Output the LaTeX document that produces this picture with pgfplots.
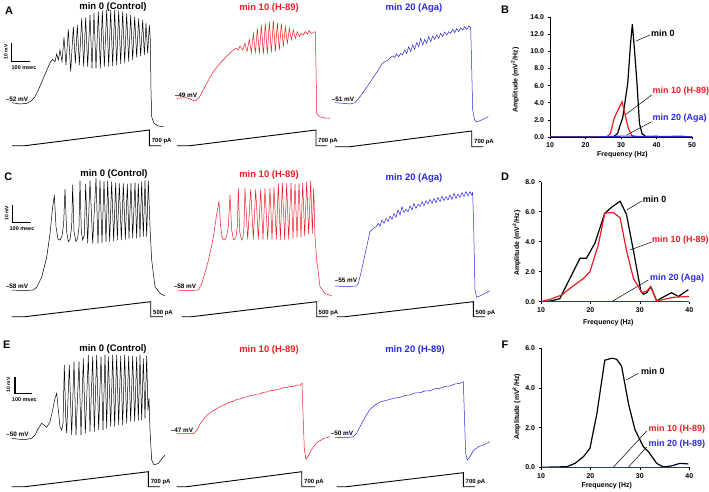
\documentclass[border=0pt]{standalone}
\usepackage{fontspec}
\setmainfont{Liberation Sans}
\usepackage{pgfplots}
\pgfplotsset{compat=1.18}
\definecolor{tred}{RGB}{237,28,36}
\definecolor{tblue}{RGB}{40,40,220}
\newcommand\fs[1]{\fontsize{#1}{#1}\selectfont\bfseries}

% traces are typed in 3x-zoom pixel units, shifted to picture pixels
\pgfplotsset{
  zm/.style 2 args={x filter/.expression={x/3+#1}, y filter/.expression={y/3+#2}},
  tr/.style={line width=0.5bp, no markers},
  ramp/.style={black, line width=0.9bp, no markers},
  spec/.style={
    scale only axis, axis lines=left, axis line style={-, line width=0.7bp},
    tick align=outside, major tick length=2.5bp, tick style={black, line width=0.6bp},
    ticklabel style={font=\fs{7}}, label style={font=\fs{7}},
    /pgf/number format/assume math mode=true,
    yticklabel style={/pgf/number format/.cd, fixed, fixed zerofill, precision=1},
    xlabel={Frequency (Hz)}, ylabel={Amplitude (mV\textsuperscript{2}/Hz)},
    every axis plot/.append style={no markers, line width=1.2bp},
  },
}
\newcommand\lbl[4][]{\node[#1] at (axis cs:#2,#3) {#4};}

\begin{document}
\begin{tikzpicture}
\begin{axis}[name=main, at={(0,0)}, anchor=south west, scale only axis,
  width=709bp, height=492bp, xmin=0, xmax=709, ymin=0, ymax=492,
  y dir=reverse, hide axis, clip=false]

% ---------------- row A ----------------
\addplot[tr, black, zm={40}{0}] coordinates {
(-85,308) (-60,312) (-40,310) (-25,302) (-15,290) (-5,270) (10,235) (25,200) (32,185)
(38,178) (45,185) (50,162) (55,180) (60,150) (66,185) (72,112) (78,195) (85,88) (92,215)
(100,80) (106,190) (112,75) (118,195) (125,55) (131,200) (137,52) (143,200) (150,45) (156,205)
(162,40) (168,205) (175,35) (181,205) (187,32) (193,200) (200,30) (206,200) (212,30) (218,198)
(224,30) (230,195) (236,32) (242,192) (248,35) (254,188) (260,40) (266,185) (272,45) (278,180)
(284,50) (290,172) (296,55) (302,168) (308,60) (313,165) (318,70) (323,160) (328,75) (331,120)
(333,270) (335,350) (342,370) (355,378) (370,380)};
\addplot[tr, tred, zm={220}{0}] coordinates {
(-130,295) (-100,293) (-75,303) (-62,292) (-40,250) (-20,215) (0,190) (10,180) (20,168) (30,160)
(40,150) (48,145) (55,150) (60,138) (68,150) (75,130) (81,155) (88,118) (94,158) (100,100)
(106,160) (112,85) (118,162) (124,75) (130,163) (136,70) (142,162) (148,65) (154,158) (160,62)
(166,155) (172,68) (178,150) (184,70) (190,140) (196,80) (202,130) (208,85) (214,120) (220,90)
(226,115) (232,95) (238,110) (244,100) (250,105) (256,95) (262,102) (268,92) (274,100) (280,98)
(286,95) (288,200) (290,340) (298,350) (315,354) (330,355)};
\addplot[tr, tblue, zm={220}{0}] coordinates {
(345,308) (370,310) (390,312) (405,308) (420,290) (440,262) (460,232) (475,210) (485,192) (495,185)
(505,180) (512,172) (518,168) (524,172) (530,162) (536,170) (542,160) (548,165) (554,150) (560,160)
(566,140) (572,155) (578,135) (584,148) (590,128) (596,140) (602,115) (608,135) (614,118) (620,130)
(626,110) (632,125) (638,108) (644,118) (650,105) (656,115) (662,100) (668,110) (674,96) (680,105)
(686,95) (692,100) (698,88) (704,98) (710,86) (716,95) (722,84) (728,90) (734,80) (740,88)
(746,78) (752,82) (755,200) (758,330) (764,360) (770,366) (785,360) (805,350)};
\addplot[ramp] coordinates {(12,145.7) (25,145.7) (149.3,130) (149.3,145.7) (161,145.7)};
\addplot[ramp] coordinates {(177,145.7) (190,145.7) (316,130) (316,145.7) (327,145.7)};
\addplot[ramp] coordinates {(335,146.7) (350,146.7) (471.7,131) (471.7,146.7) (483,146.7)};

% ---------------- row C ----------------
\addplot[tr, black, zm={0}{160}] coordinates {
(35,390) (70,392) (100,390) (110,382) (125,352) (140,292) (150,222) (157,150) (163,105) (168,200)
(174,238) (180,240) (186,228) (191,190) (195,88) (200,215) (205,245) (210,238) (215,200) (218,75)
(222,215) (228,245) (233,235) (237,200) (240,62) (244,215) (248,240) (253,225) (257,72) (263,250)
(270,62) (278,250) (288,55) (294,250) (300,62) (306,248) (312,65) (318,245) (323,62) (329,245)
(335,65) (341,243) (347,68) (352,240) (358,70) (364,240) (370,70) (376,238) (382,72) (387,235)
(393,70) (398,235) (405,68) (410,235) (415,70) (420,232) (425,65) (430,230) (435,62) (440,230)
(445,62) (450,200) (455,300) (465,380) (480,400) (495,408)};
\addplot[tr, tred, zm={165}{160}] coordinates {
(40,392) (70,392) (100,390) (110,372) (130,302) (145,232) (155,162) (162,125) (167,200) (172,235)
(178,240) (184,232) (190,200) (195,105) (200,210) (205,238) (208,240) (213,230) (217,200) (220,85)
(224,215) (230,240) (234,232) (237,200) (240,85) (248,238) (257,88) (265,238) (272,88) (280,238)
(287,88) (294,238) (300,85) (308,238) (315,85) (321,238) (327,82) (334,238) (340,70) (346,240)
(352,68) (359,240) (365,70) (371,238) (378,68) (384,235) (390,72) (396,232) (402,70) (408,232)
(413,68) (419,228) (425,65) (431,222) (437,62) (442,220) (446,85) (450,230) (455,300) (465,380)
(480,400) (500,408)};
\addplot[tr, tblue, zm={320}{160}] coordinates {
(45,378) (80,380) (110,378) (115,370) (125,330) (140,260) (150,215) (160,205) (168,200) (175,190)
(180,198) (186,180) (192,190) (198,175) (204,185) (210,168) (216,178) (222,160) (228,172) (234,150)
(240,165) (246,140) (252,158) (258,148) (264,155) (270,138) (276,150) (282,130) (288,145) (294,132)
(300,140) (306,125) (312,138) (318,122) (324,132) (330,118) (336,130) (342,115) (348,128) (354,112)
(360,125) (366,108) (372,122) (378,110) (384,120) (390,105) (396,118) (402,100) (408,115) (414,102)
(420,112) (426,98) (432,110) (438,95) (444,108) (450,95) (455,105) (458,98) (461,200) (465,390)
(470,412) (485,405) (510,392)};
\addplot[ramp] coordinates {(11.7,316.7) (25,316.7) (150.7,301.7) (150.7,316.7) (163,316.7)};
\addplot[ramp] coordinates {(181.7,316.7) (191.7,316.7) (316.7,301.7) (316.7,316.7) (328,316.7)};
\addplot[ramp] coordinates {(336.7,316.7) (345,316.7) (473.3,301.7) (473.3,316.7) (485,316.7)};

% ---------------- row E ----------------
\addplot[tr, black, zm={0}{330}] coordinates {
(35,325) (60,328) (80,328) (95,325) (105,315) (115,295) (125,280) (132,285) (140,292) (150,275)
(158,240) (165,205) (170,190) (175,240) (180,290) (185,300) (189,280) (193,105) (197,260) (200,310)
(208,105) (215,315) (222,95) (228,315) (237,95) (243,315) (250,85) (256,310) (265,75) (270,305)
(278,80) (283,305) (290,75) (296,300) (303,80) (309,300) (315,75) (320,295) (325,80) (332,290)
(338,75) (344,290) (350,75) (356,285) (362,78) (368,285) (374,75) (380,280) (386,78) (392,275)
(398,78) (404,275) (410,80) (415,272) (420,75) (425,270) (430,85) (435,265) (440,78) (444,240)
(447,205) (450,300) (455,390) (462,405) (475,400) (495,375)};
\addplot[tr, tred, zm={220}{330}] coordinates {
(-130,310) (-80,311) (-70,302) (-60,282) (-40,256) (-20,242) (0,230) (10,226) (20,221) (30,216)
(40,214) (50,208) (60,207) (70,202) (80,201) (90,197) (100,196) (110,192) (120,192) (130,187)
(140,186) (150,182) (160,182) (170,178) (180,177) (190,173) (200,173) (210,169) (220,170) (230,165)
(240,166) (246,160) (249,250) (253,360) (258,388) (265,378) (275,358) (290,338) (310,326) (330,320)};
\addplot[tr, tblue, zm={220}{330}] coordinates {
(345,322) (380,323) (400,320) (410,310) (420,290) (435,262) (450,238) (465,225) (480,216) (495,212)
(510,208) (525,204) (540,202) (555,196) (570,195) (585,189) (600,188) (615,183) (630,182) (645,176)
(660,175) (675,169) (690,168) (705,162) (720,160) (730,155) (733,250) (737,370) (742,390) (750,380)
(760,362) (775,350) (790,345) (810,335)};
\addplot[ramp] coordinates {(11.7,486.7) (25,486.7) (148.3,471.7) (148.3,486.7) (160,486.7)};
\addplot[ramp] coordinates {(176.7,486.7) (186.7,486.7) (301.7,471.7) (301.7,486.7) (315,486.7)};
\addplot[ramp] coordinates {(336.7,486.7) (346.7,486.7) (463.3,472.7) (463.3,486.7) (475,486.7)};

% scale bars
\draw[line width=1.4bp] (axis cs:11.7,43.3) -- (axis cs:11.7,61.7) -- (axis cs:30,61.7);
\draw[line width=1.4bp] (axis cs:12.3,205) -- (axis cs:12.3,222.7) -- (axis cs:30.7,222.7);
\draw[line width=1.4bp] (axis cs:15,376.7) -- (axis cs:15,393.3) -- (axis cs:32.3,393.3);
\lbl[font=\fs{5}, rotate=90]{6}{52}{10 mV}
\lbl[font=\fs{5}, rotate=90]{6.7}{213.3}{10 mV}
\lbl[font=\fs{5}, rotate=90]{8.3}{385}{10 mV}
\lbl[font=\fs{5.5}]{24}{67.7}{100 msec}
\lbl[font=\fs{5.5}]{22}{228.3}{100 msec}
\lbl[font=\fs{5.5}]{24.3}{400}{100 msec}

% panel letters
\lbl[font=\fs{11}]{9}{10.7}{A}
\lbl[font=\fs{11}]{8.3}{176.7}{C}
\lbl[font=\fs{11}]{6.7}{345}{E}
\lbl[font=\fs{11}]{505}{10}{B}
\lbl[font=\fs{11}]{505}{176.7}{D}
\lbl[font=\fs{11}]{505}{345}{F}

% trace titles
\lbl[font=\fs{9.5}]{113}{7}{min 0 (Control)}
\lbl[font=\fs{9.5}, tred]{269}{8}{min 10 (H-89)}
\lbl[font=\fs{9.5}, tblue]{414}{8}{min 20 (Aga)}
\lbl[font=\fs{9.5}]{114}{174}{min 0 (Control)}
\lbl[font=\fs{9.5}, tred]{269}{175}{min 10 (H-89)}
\lbl[font=\fs{9.5}, tblue]{414}{178}{min 20 (Aga)}
\lbl[font=\fs{9.5}]{113}{349}{min 0 (Control)}
\lbl[font=\fs{9.5}, tred]{269}{350}{min 10 (H-89)}
\lbl[font=\fs{9.5}, tblue]{415}{350}{min 20 (H-89)}

% resting potentials
\lbl[font=\fs{6.4}]{17}{99}{--52 mV}
\lbl[font=\fs{6.4}]{186}{95}{--49 mV}
\lbl[font=\fs{6.4}]{343}{99.3}{--51 mV}
\lbl[font=\fs{6.4}]{17}{286.7}{--58 mV}
\lbl[font=\fs{6.4}]{185}{286.7}{--58 mV}
\lbl[font=\fs{6.4}]{346}{280.7}{--55 mV}
\lbl[font=\fs{6.4}]{17.5}{434.3}{--50 mV}
\lbl[font=\fs{6.4}]{182}{430}{--47 mV}
\lbl[font=\fs{6.4}]{342}{433.3}{--50 mV}

% current amplitudes
\lbl[font=\fs{6}, anchor=west, inner sep=0pt]{151.7}{141.5}{700 pA}
\lbl[font=\fs{6}, anchor=west, inner sep=0pt]{318}{141.5}{700 pA}
\lbl[font=\fs{6}, anchor=west, inner sep=0pt]{474}{142.5}{700 pA}
\lbl[font=\fs{6}, anchor=west, inner sep=0pt]{153}{313}{500 pA}
\lbl[font=\fs{6}, anchor=west, inner sep=0pt]{318.5}{313}{500 pA}
\lbl[font=\fs{6}, anchor=west, inner sep=0pt]{475.5}{313}{500 pA}
\lbl[font=\fs{6}, anchor=west, inner sep=0pt]{150.7}{482.5}{700 pA}
\lbl[font=\fs{6}, anchor=west, inner sep=0pt]{304}{482.5}{700 pA}
\lbl[font=\fs{6}, anchor=west, inner sep=0pt]{465.5}{482.5}{700 pA}

% spectrum labels and leaders
\lbl[font=\fs{9}, anchor=west, inner sep=1pt]{650}{33}{min 0}
\lbl[font=\fs{9}, anchor=west, inner sep=1pt, tred]{651.5}{91}{min 10 (H-89)}
\lbl[font=\fs{9}, anchor=west, inner sep=1pt, tblue]{651.5}{118.3}{min 20 (Aga)}
\draw[line width=0.5bp] (axis cs:650,35) -- (axis cs:636,41);
\draw[line width=0.5bp] (axis cs:651.7,95) -- (axis cs:625,115);
\draw[line width=0.5bp] (axis cs:651.7,121.7) -- (axis cs:626.7,135);
\lbl[font=\fs{9}, anchor=west, inner sep=1pt]{641.7}{199.3}{min 0}
\lbl[font=\fs{9}, anchor=west, inner sep=1pt, tred]{651}{240}{min 10 (H-89)}
\lbl[font=\fs{9}, anchor=west, inner sep=1pt, tblue]{649}{277.7}{min 20 (Aga)}
\draw[line width=0.5bp] (axis cs:641.7,201) -- (axis cs:626.7,210);
\draw[line width=0.5bp] (axis cs:651.7,242) -- (axis cs:630,250);
\draw[line width=0.5bp] (axis cs:648.3,280) -- (axis cs:611.7,301.7);
\lbl[font=\fs{9}, anchor=west, inner sep=1pt]{640}{371.7}{min 0}
\lbl[font=\fs{9}, anchor=west, inner sep=1pt, tred]{647.5}{429}{min 10 (H-89)}
\lbl[font=\fs{9}, anchor=west, inner sep=1pt, tblue]{647.5}{444.3}{min 20 (H-89)}
\draw[line width=0.5bp] (axis cs:638.3,373.3) -- (axis cs:626,380);
\draw[line width=0.5bp] (axis cs:646.7,431) -- (axis cs:613.3,467.3);
\draw[line width=0.5bp] (axis cs:646.7,447) -- (axis cs:628.3,467.3);
\end{axis}

% ---------------- B ----------------
\begin{axis}[spec, at={(550bp,355bp)}, anchor=south west, width=142bp, height=119.7bp,
  xmin=10, xmax=50, ymin=0, ymax=14, xtick={10,20,30,40,50}, ytick={0,2,...,14},
  xlabel style={at={(axis description cs:0.51,-0.15)}, anchor=center},
  ylabel style={at={(axis description cs:-0.246,0.476)}, anchor=center}]
\addplot[black] coordinates {(10,0) (27.8,0) (29.0,0.4) (30.5,2.3) (31.9,6.3) (32.7,11.0) (33.2,13.2)
  (33.8,10.2) (34.5,6.3) (35.2,1.6) (35.9,0.4) (37,0.05) (39,0.05) (40,0.1) (41,0) (50,0)};
\addplot[tred] coordinates {(10,0) (26,0) (27,0.4) (28.1,2.2) (29.2,3.2) (30.3,4.1) (31,2.9)
  (32,1.1) (33,0.2) (34,0) (50,0)};
\addplot[tblue] coordinates {(10,0) (24,0) (26,0.05) (30,0.1) (33,0.1) (36,0.05) (40,0.05)
  (45,0.08) (47,0.1) (48,0.05) (50,0)};
\end{axis}

% ---------------- D ----------------
\begin{axis}[spec, at={(541bp,190.3bp)}, anchor=south west, width=148.3bp, height=120bp,
  xmin=10, xmax=40, ymin=0, ymax=8, xtick={10,20,30,40}, ytick={0,2,4,6,8},
  xlabel style={at={(axis description cs:0.454,-0.172)}, anchor=center},
  ylabel style={at={(axis description cs:-0.164,0.487)}, anchor=center}]
\addplot[black] coordinates {(10,0) (12,0.05) (13.8,0.2) (17.9,2.9) (19.2,2.9) (20.9,3.9) (22.9,5.9)
  (24.3,6.3) (26,6.7) (27.3,5.8) (28.7,3.4) (30.2,0.7) (30.7,0.5) (31.4,0.6) (32.2,1.0) (33.4,0.05)
  (34.4,0.25) (36.4,0.6) (37.8,0.35) (39.8,0.8)};
\addplot[tred] coordinates {(10,0) (12.2,0.2) (14.2,0.45) (15.9,0.9) (18.6,1.55) (19.9,2.0) (21.6,3.8)
  (22.9,5.9) (24.6,5.95) (26,5.6) (27.3,3.4) (28.7,1.55) (30.4,0.6) (31.4,0.7) (32.2,1.0) (33.4,0.05)
  (35.5,0.2) (37,0.3) (40,0.35)};
\addplot[tblue] coordinates {(10,0) (40,0)};
\end{axis}

% ---------------- F ----------------
\begin{axis}[spec, at={(541bp,24.7bp)}, anchor=south west, width=148.3bp, height=119bp,
  xmin=10, xmax=40, ymin=0, ymax=6, xtick={10,20,30,40}, ytick={0,2,4,6},
  xlabel style={at={(axis description cs:0.443,-0.151)}, anchor=center},
  ylabel style={at={(axis description cs:-0.164,0.51)}, anchor=center}]
\addplot[black] coordinates {(10,0) (15.2,0.03) (16.9,0.2) (18.6,0.54) (19.9,0.96) (21.3,2.7) (22.9,5.4)
  (24.3,5.5) (25.3,5.45) (26.3,5.1) (27.7,3.2) (29.0,1.9) (30.7,1.04) (31.7,0.8) (33.4,0.2)
  (34.7,0.02) (36.4,0.07) (38.1,0.2) (39.8,0.17)};
\addplot[tred] coordinates {(10,0) (40,0)};
\addplot[tblue] coordinates {(10,0) (40,0)};
\end{axis}

\pgfresetboundingbox
\useasboundingbox (0,0) rectangle (709bp,492bp);
\end{tikzpicture}
\end{document}
